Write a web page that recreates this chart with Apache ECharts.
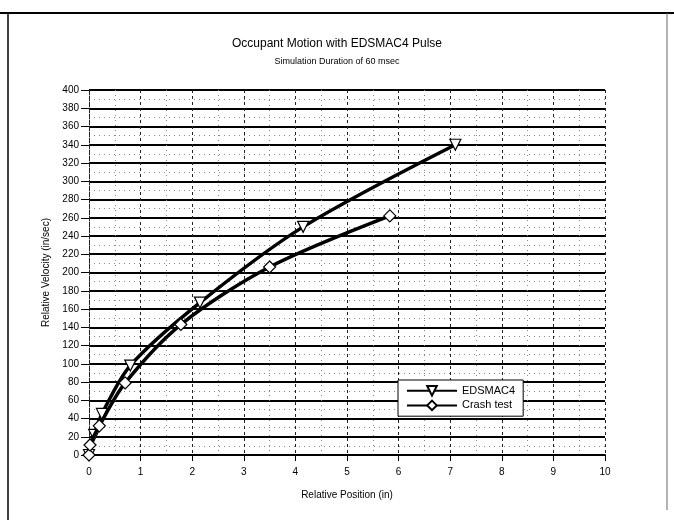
<!DOCTYPE html>
<html>
<head>
<meta charset="utf-8">
<script src="https://cdn.jsdelivr.net/npm/echarts@6/dist/echarts.min.js"></script>
<style>html,body{margin:0;padding:0;background:#fff;}#c{width:674px;height:520px;}</style>
</head>
<body>
<div id="c"></div>
<script>
var titleText = 'Occupant Motion with EDSMAC4 Pulse';
var subtitleText = 'Simulation Duration of 60 msec';
var xAxisName = 'Relative Position (in)';
var yAxisName = 'Relative Velocity (in/sec)';
var seriesNames = ['EDSMAC4', 'Crash test'];
var edsmacX = [0, 0.1, 0.25, 0.8, 2.15, 4.15, 7.1];
var edsmacY = [0, 22, 45, 98, 167, 250, 340];
var crashX = [0, 0.02, 0.2, 0.7, 1.78, 3.5, 5.83];
var crashY = [0, 11, 32, 79, 143, 206, 262];

function pairs(xs, ys) { return xs.map(function (x, i) { return [x, ys[i]]; }); }

var chart = echarts.init(document.getElementById('c'), null, { renderer: 'canvas' });
var font = 'Liberation Sans, Arial, sans-serif';
chart.setOption({
  backgroundColor: '#fff',
  animation: false,
  title: [
    { text: titleText, left: 'center', top: 33, textStyle: { fontFamily: font, fontSize: 12, fontWeight: 'normal', color: '#000' } },
    { text: subtitleText, left: 'center', top: 52, textStyle: { fontFamily: font, fontSize: 9, fontWeight: 'normal', color: '#000' } }
  ],
  graphic: [
    { type: 'line', shape: { x1: 0, y1: 13, x2: 674, y2: 13 }, style: { stroke: '#000', lineWidth: 2 } },
    { type: 'line', shape: { x1: 8, y1: 13, x2: 8, y2: 520 }, style: { stroke: '#000', lineWidth: 1.5 } },
    { type: 'line', shape: { x1: 667, y1: 13, x2: 667, y2: 510 }, style: { stroke: '#666', lineWidth: 1 } }
  ],
  grid: { left: 89, right: 69, top: 90, bottom: 65 },
  legend: {
    data: seriesNames,
    orient: 'vertical',
    left: 398, top: 380,
    itemWidth: 50, itemHeight: 12, itemGap: 3,
    padding: [5, 8, 5, 8],
    backgroundColor: '#fff',
    borderColor: '#000', borderWidth: 1,
    textStyle: { fontFamily: font, fontSize: 11, color: '#000' }
  },
  xAxis: {
    type: 'value', min: 0, max: 10, interval: 1,
    name: xAxisName, nameLocation: 'middle', nameGap: 35,
    nameTextStyle: { fontFamily: font, fontSize: 10, color: '#000' },
    axisLine: { show: true, lineStyle: { color: '#000', width: 2 } },
    axisTick: { show: true, length: 6, lineStyle: { color: '#000' } },
    axisLabel: { fontFamily: font, fontSize: 10, color: '#000', margin: 12 },
    splitLine: { show: true, lineStyle: { color: '#222', width: 1, type: [3, 3] } },
    minorTick: { show: true, splitNumber: 2, length: 0 },
    minorSplitLine: { show: true, lineStyle: { color: '#888', width: 1, type: [1, 4] } }
  },
  yAxis: {
    type: 'value', min: 0, max: 400, interval: 20,
    name: yAxisName, nameLocation: 'middle', nameGap: 37,
    nameTextStyle: { fontFamily: font, fontSize: 10, color: '#000' },
    axisLine: { show: true, lineStyle: { color: '#222', width: 1, type: [3, 3] } },
    axisTick: { show: true, length: 8, lineStyle: { color: '#000', width: 1 } },
    axisLabel: { fontFamily: font, fontSize: 10, color: '#000', margin: 10 },
    splitLine: { show: true, lineStyle: { color: '#000', width: 2 } },
    minorTick: { show: true, splitNumber: 2, length: 0 },
    minorSplitLine: { show: true, lineStyle: { color: '#888', width: 1, type: [1, 4] } }
  },
  series: [
    {
      name: seriesNames[0], type: 'line', data: pairs(edsmacX, edsmacY),
      smooth: 0.3, symbol: 'triangle', symbolRotate: 180, symbolSize: 11,
      lineStyle: { color: '#000', width: 3.5 },
      itemStyle: { color: '#fff', borderColor: '#000', borderWidth: 1.2 },
      z: 3
    },
    {
      name: seriesNames[1], type: 'line', data: pairs(crashX, crashY),
      smooth: 0.3, symbol: 'diamond', symbolSize: 12,
      lineStyle: { color: '#000', width: 3.5 },
      itemStyle: { color: '#fff', borderColor: '#000', borderWidth: 1.2 },
      z: 4
    }
  ]
});
</script>
</body>
</html>
